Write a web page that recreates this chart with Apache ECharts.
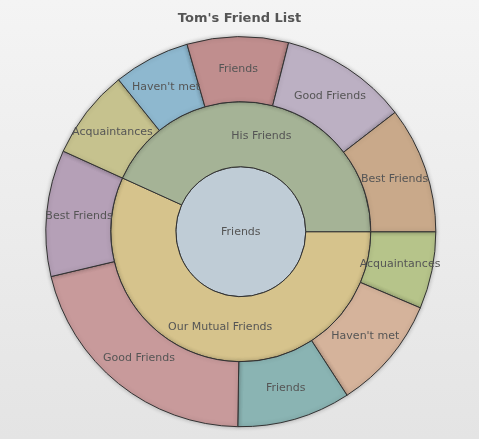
<!DOCTYPE html>
<html>
<head>
<meta charset="utf-8">
<script src="https://cdn.jsdelivr.net/npm/echarts@6/dist/echarts.min.js"></script>
<style>html,body{margin:0;padding:0;}#c{width:479px;height:439px;}</style>
</head>
<body>
<div id="c"></div>
<script>
const rootName = 'Friends';
const groupNames = ['His Friends', 'Our Mutual Friends'];
const childNames = ['Best Friends', 'Good Friends', 'Friends', "Haven't met", 'Acquaintances'];
const hisValues = [37.7, 38.1, 30.2, 22.8, 26.8];
const ourValues = [37.7, 75.8, 33.9, 34.0, 23.0];

const rootColor = '#BFCCD6';
const groupColors = ['#A5B396', '#D6C38C'];
const hisColors = ['#C9A98A', '#BCB0C3', '#C08E8E', '#8EB8CF', '#C6C28E'];
const ourColors = ['#B5A0B7', '#C89A9B', '#8AB4B3', '#D5B39B', '#B6C48A'];

// Segments run counter-clockwise from 3 o'clock in the source; ECharts draws
// clockwise here, so the order is reversed when building the tree.
function kids(values, colors) {
  return childNames.map((n, i) => ({ name: n, value: values[i], itemStyle: { color: colors[i] } })).reverse();
}
const data = [{
  name: rootName,
  itemStyle: { color: rootColor },
  children: [
    { name: groupNames[0], itemStyle: { color: groupColors[0] }, children: kids(hisValues, hisColors) },
    { name: groupNames[1], itemStyle: { color: groupColors[1] }, children: kids(ourValues, ourColors) }
  ].reverse()
}];

const chart = echarts.init(document.getElementById('c'));
chart.setOption({
  animation: false,
  backgroundColor: {
    type: 'linear', x: 0, y: 0, x2: 0, y2: 1,
    colorStops: [{ offset: 0, color: '#F4F4F4' }, { offset: 1, color: '#E4E4E4' }]
  },
  title: {
    text: "Tom's Friend List",
    left: 'center',
    top: 7,
    textStyle: { fontFamily: 'DejaVu Sans', fontSize: 13, fontWeight: 'bold', color: '#555555' }
  },
  series: [{
    type: 'sunburst',
    center: [240.8, 231.7],
    radius: [0, 195],
    startAngle: 0,
    clockwise: true,
    sort: null,
    nodeClick: false,
    emphasis: { disabled: true },
    data: data,
    label: {
      rotate: 0,
      fontFamily: 'DejaVu Sans',
      fontSize: 11,
      color: '#555555',
      overflow: 'none'
    },
    itemStyle: { borderColor: '#333333', borderWidth: 1 },
    levels: [
      {},
      { r0: 0, r: 65 },
      { r0: 65, r: 130 },
      { r0: 130, r: 195, itemStyle: { shadowBlur: 4, shadowColor: 'rgba(0,0,0,0.25)' } }
    ]
  }]
});
</script>
</body>
</html>
